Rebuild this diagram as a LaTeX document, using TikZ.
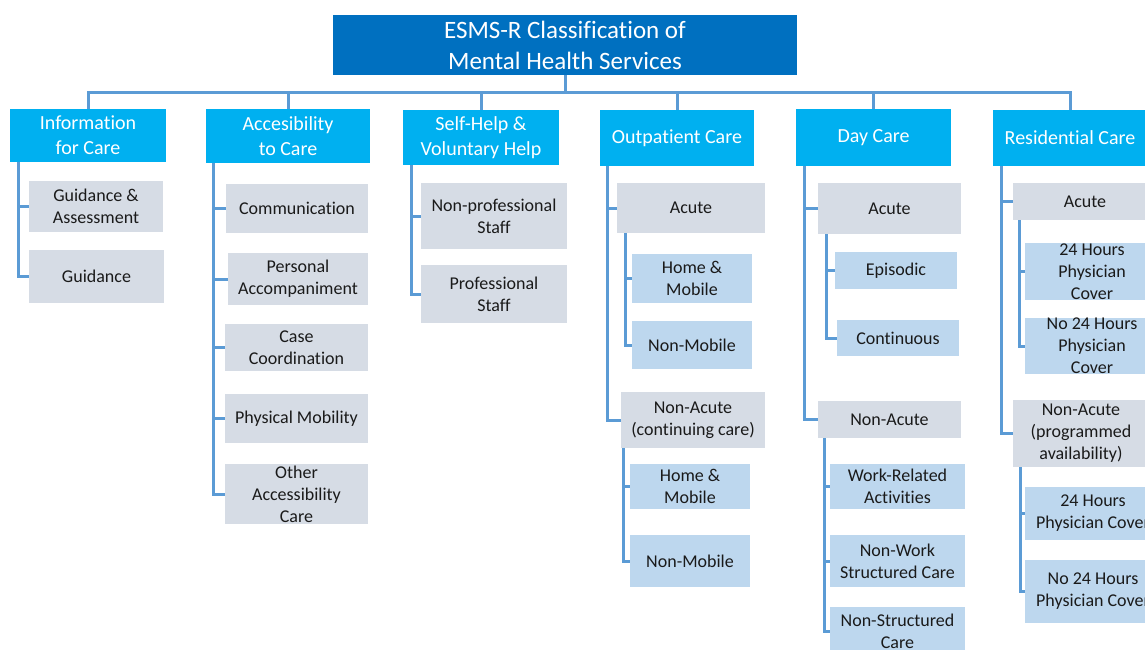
\documentclass[tikz,border=0pt]{standalone}
\usepackage{fontspec}
\setmainfont{Carlito}[Ligatures={NoCommon,NoDiscretionary,NoRare}]
\definecolor{titleblue}{HTML}{0070C0}
\definecolor{headblue}{HTML}{00B0F0}
\definecolor{graybox}{HTML}{D6DCE5}
\definecolor{lightblue}{HTML}{BDD7EE}
\definecolor{connblue}{HTML}{5B9BD5}
\definecolor{txt}{HTML}{1A1A1A}
\begin{document}
\begin{tikzpicture}[x=1pt,y=-1pt,
  base/.style={inner sep=0pt, outer sep=0pt, align=center},
  titlebox/.style={base, fill=titleblue, text=white, font=\fontsize{25}{31}\selectfont},
  headbox/.style={base, fill=headblue, text=white, font=\fontsize{20}{25}\selectfont},
  graynode/.style={base, fill=graybox, text=txt, font=\fontsize{18}{22}\selectfont},
  bluenode/.style={base, fill=lightblue, text=txt, font=\fontsize{18}{22}\selectfont},
  conn/.style={draw=connblue, line width=3pt}]
\useasboundingbox (0,0) rectangle (1145,650);
\clip (0,0) rectangle (1145,650);

% title
\node[titlebox, minimum width=464pt, minimum height=60pt] (title) at (565,45) {ESMS-R Classification of\\Mental Health Services};

% headers
\node[headbox, minimum width=156pt, minimum height=52pt] (H1) at (88,135.5) {Information\\for Care};
\node[headbox, minimum width=164pt, minimum height=53pt] (H2) at (288,136) {Accesibility\\to Care};
\node[headbox, minimum width=156pt, minimum height=54pt] (H3) at (481,137.5) {Self-Help \&\\Voluntary Help};
\node[headbox, minimum width=154pt, minimum height=55pt] (H4) at (677,138) {Outpatient Care};
\node[headbox, minimum width=155pt, minimum height=56pt] (H5) at (873.5,137.5) {Day Care};
\node[headbox, minimum width=154pt, minimum height=55pt] (H6) at (1070,138) {Residential Care};

% column 1
\node[graynode, minimum width=134pt, minimum height=51pt] (GA) at (96,206.5) {Guidance \&\\Assessment};
\node[graynode, minimum width=135pt, minimum height=53pt] (G) at (96.5,276.5) {Guidance};

% column 2
\node[graynode, minimum width=142pt, minimum height=49pt] (Comm) at (297,208.5) {Communication};
\node[graynode, minimum width=140pt, minimum height=52pt] (PA) at (298,279) {Personal\\Accompaniment};
\node[graynode, minimum width=143pt, minimum height=47pt] (CC) at (296.5,347.5) {Case\\Coordination};
\node[graynode, minimum width=143pt, minimum height=49pt] (PM) at (296.5,418.5) {Physical Mobility};
\node[graynode, minimum width=143pt, minimum height=60pt] (OAC) at (296.5,494) {Other\\Accessibility\\Care};

% column 3
\node[graynode, minimum width=146pt, minimum height=66pt] (NPS) at (494,216) {Non-professional\\Staff};
\node[graynode, minimum width=146pt, minimum height=58pt] (PS) at (494,294) {Professional\\Staff};

% column 4
\node[graynode, minimum width=148pt, minimum height=50pt] (OA) at (691,208) {Acute};
\node[bluenode, minimum width=120pt, minimum height=49pt] (OHM1) at (692,278.5) {Home \&\\Mobile};
\node[bluenode, minimum width=120pt, minimum height=48pt] (ONM1) at (692,345) {Non-Mobile};
\node[graynode, minimum width=144pt, minimum height=56pt] (ONA) at (693,420) {Non-Acute\\(continuing care)};
\node[bluenode, minimum width=120pt, minimum height=45pt] (OHM2) at (690,486.5) {Home \&\\Mobile};
\node[bluenode, minimum width=120pt, minimum height=52pt] (ONM2) at (690,561) {Non-Mobile};

% column 5
\node[graynode, minimum width=143pt, minimum height=51pt] (DA) at (889.5,208.5) {Acute};
\node[bluenode, minimum width=122pt, minimum height=37pt] (DE) at (896,270.5) {Episodic};
\node[bluenode, minimum width=122pt, minimum height=36pt] (DC) at (898,338) {Continuous};
\node[graynode, minimum width=143pt, minimum height=37pt] (DNA) at (889.5,419.5) {Non-Acute};
\node[bluenode, minimum width=135pt, minimum height=45pt] (DW) at (897.5,486.5) {Work-Related\\Activities};
\node[bluenode, minimum width=135pt, minimum height=52pt] (DNW) at (897.5,561) {Non-Work\\Structured Care};
\node[bluenode, minimum width=135pt, minimum height=48pt] (DNS) at (897.5,631) {Non-Structured\\Care};

% column 6
\node[graynode, minimum width=144pt, minimum height=37pt] (RA) at (1085,201.5) {Acute};
\node[bluenode, minimum width=134pt, minimum height=57pt] (R24a) at (1092,271.5) {24 Hours\\Physician\\Cover};
\node[bluenode, minimum width=134pt, minimum height=52pt] (RN24a) at (1092,346) {No 24 Hours\\Physician\\Cover};
\node[graynode, minimum width=136pt, minimum height=67pt] (RNA) at (1081,433.5) {Non-Acute\\(programmed\\availability)};
\node[bluenode, minimum width=136pt, minimum height=53pt] (R24b) at (1093,513.5) {24 Hours\\Physician Cover};
\node[bluenode, minimum width=136pt, minimum height=63pt] (RN24b) at (1093,591.5) {No 24 Hours\\Physician Cover};

% trunk coordinates
\coordinate (bus) at (565,93);
\coordinate (t1) at (18,0);
\coordinate (t2) at (213,0);
\coordinate (t3) at (411,0);
\coordinate (t4) at (607,0);
\coordinate (t4a) at (625,0);
\coordinate (t4b) at (623,0);
\coordinate (t5) at (804,0);
\coordinate (t5a) at (826,0);
\coordinate (t5b) at (824,0);
\coordinate (t6) at (1001,0);
\coordinate (t6a) at (1019,0);
\coordinate (t6b) at (1020,0);

% title to headers
\draw[conn] (title.south) -- (bus);
\foreach \h in {H1,H2,H3,H4,H5,H6} \draw[conn] (bus) -| (\h.north);

% column 1
\draw[conn] (H1.south -| t1) |- (G.west);
\draw[conn] (t1 |- GA.west) -- (GA.west);
% column 2
\draw[conn] (H2.south -| t2) |- (OAC.west);
\foreach \n in {Comm,PA,CC,PM} \draw[conn] (t2 |- \n.west) -- (\n.west);
% column 3
\draw[conn] (H3.south -| t3) |- (PS.west);
\draw[conn] (t3 |- NPS.west) -- (NPS.west);
% column 4
\draw[conn] (H4.south -| t4) |- (ONA.west);
\draw[conn] (t4 |- OA.west) -- (OA.west);
\draw[conn] (OA.south -| t4a) |- (ONM1.west);
\draw[conn] (t4a |- OHM1.west) -- (OHM1.west);
\draw[conn] (ONA.south -| t4b) |- (ONM2.west);
\draw[conn] (t4b |- OHM2.west) -- (OHM2.west);
% column 5
\draw[conn] (H5.south -| t5) |- (DNA.west);
\draw[conn] (t5 |- DA.west) -- (DA.west);
\draw[conn] (DA.south -| t5a) |- (DC.west);
\draw[conn] (t5a |- DE.west) -- (DE.west);
\draw[conn] (DNA.south -| t5b) |- (DNS.west);
\foreach \n in {DW,DNW} \draw[conn] (t5b |- \n.west) -- (\n.west);
% column 6
\draw[conn] (H6.south -| t6) |- (RNA.west);
\draw[conn] (t6 |- RA.west) -- (RA.west);
\draw[conn] (RA.south -| t6a) |- (RN24a.west);
\draw[conn] (t6a |- R24a.west) -- (R24a.west);
\draw[conn] (RNA.south -| t6b) |- (RN24b.west);
\draw[conn] (t6b |- R24b.west) -- (R24b.west);
\end{tikzpicture}
\end{document}
